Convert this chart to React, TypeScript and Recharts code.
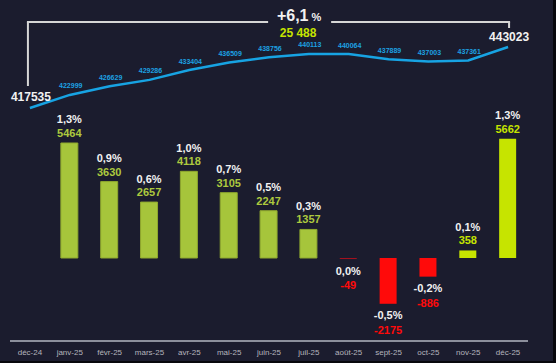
import {
  ComposedChart, Bar, Line, XAxis, YAxis, Cell, LabelList, ReferenceLine
} from "recharts";

const months = [
  "déc-24", "janv-25", "févr-25", "mars-25", "avr-25", "mai-25", "juin-25",
  "juil-25", "août-25", "sept-25", "oct-25", "nov-25", "déc-25",
];
const totals = [
  417535, 422999, 426629, 429286, 433404, 436509, 438756,
  440113, 440064, 437889, 437003, 437361, 443023,
];
const deltas = [null, 5464, 3630, 2657, 4118, 3105, 2247, 1357, -49, -2175, -886, 358, 5662];
const pctLabels = ["", "1,3%", "0,9%", "0,6%", "1,0%", "0,7%", "0,5%", "0,3%", "0,0%", "-0,5%", "-0,2%", "0,1%", "1,3%"];
const totalPct = "+6,1";
const totalDelta = "25 488";

const data = months.map((m, i) => ({ month: m, total: totals[i], delta: deltas[i] }));

const BG = "#1b1c2e";
const OLIVE = "#a6c53b";
const LIME = "#c6e400";
const RED = "#ff0a0a";
const LINE = "#17a3e3";

// bar look per month (olive for the older months, lime for the latest, red below zero)
const barFill = (i: number, v: number | null) => {
  if (v == null) return "none";
  if (v < 0) return Math.abs(v) < 100 ? "#a3111e" : RED;
  return i >= 11 ? LIME : OLIVE;
};
const valueColor = (i: number, v: number | null) => {
  if (v == null) return "none";
  if (v < 0) return RED;
  return i >= 11 ? LIME : "#adc93e";
};

const BRACKET_Y = 453473;

function BarLabel(props: any) {
  const { x, y, width, height, value } = props;
  const index = deltas.indexOf(value);
  if (index < 0) return null;
  const v = deltas[index] as number;
  const cx = x + width / 2;
  const top = Math.min(y, y + height);
  const bottom = Math.max(y, y + height);
  const pos = v > 0;
  const pctY = pos ? top - 19.5 : bottom + 15.5;
  const valY = pos ? top - 6 : bottom + 30;
  return (
    <g fontWeight={700} fontSize={11} textAnchor="middle">
      <text x={cx} y={pctY} fill="#f2f2f2">{pctLabels[index]}</text>
      <text x={cx} y={valY} fill={valueColor(index, v)}>{v}</text>
    </g>
  );
}

function LineLabel(props: any) {
  const { x, y, index } = props;
  const v = totals[index];
  if (index === 0 || index === totals.length - 1) {
    return (
      <text x={x + 1} y={y - 6.5} textAnchor="middle" fill="#f2f2f2" fontSize={12} fontWeight={700}>
        {v}
      </text>
    );
  }
  return (
    <text x={x + 1} y={y - 6.5} textAnchor="middle" fill="#1da1e2" fontSize={7} fontWeight={700}>
      {v}
    </text>
  );
}

function BracketLabel(props: any) {
  const { viewBox } = props;
  const cx = viewBox.x + viewBox.width * 0.563;
  const y = viewBox.y;
  return (
    <g>
      <rect x={cx - 31} y={y - 3} width={63} height={6} fill={BG} />
      <text x={cx} y={y - 1} textAnchor="middle" fill="#f2f2f2" fontWeight={700} fontSize={16}>
        {totalPct}
        <tspan fontSize={11} dx={3}>%</tspan>
      </text>
      <text x={cx - 1} y={y + 15} textAnchor="middle" fill={LIME} fontWeight={700} fontSize={12}>
        {totalDelta}
      </text>
    </g>
  );
}

export default function App() {
  return (
    <div
      style={{
        position: "absolute", left: 0, top: 0, width: 556, height: 363,
        background: BG, fontFamily: "'Liberation Sans', Arial, sans-serif",
      }}
    >
      <ComposedChart
        width={556}
        height={363}
        data={data}
        margin={{ top: 0, right: 28, left: 10, bottom: 0 }}
      >
        <XAxis
          dataKey="month"
          interval={0}
          height={22}
          tickLine={false}
          axisLine={{ stroke: "#8c8f9c", strokeWidth: 2 }}
          tick={{ fontSize: 8, fill: "#b4b4bc" }}
        />
        <YAxis yAxisId="bar" hide domain={[-3943, 12257]} allowDataOverflow />
        <YAxis yAxisId="line" hide domain={[320168, 462666]} allowDataOverflow />

        <ReferenceLine
          yAxisId="line"
          segment={[{ x: "déc-24", y: BRACKET_Y }, { x: "déc-25", y: BRACKET_Y }]}
          stroke="#d6d6d6"
          strokeWidth={2}
          shape={(p: any) => (
            <line x1={p.x1 - 3} y1={p.y1} x2={p.x2 + 2} y2={p.y2} stroke="#d6d6d6" strokeWidth={2} />
          )}
          label={{ content: BracketLabel }}
        />
        <ReferenceLine
          yAxisId="line"
          segment={[{ x: "déc-24", y: BRACKET_Y }, { x: "déc-24", y: 426728 }]}
          shape={(p: any) => (
            <line x1={p.x1 - 2} y1={p.y1} x2={p.x2 - 2} y2={p.y2} stroke="#d6d6d6" strokeWidth={2} />
          )}
        />
        <ReferenceLine
          yAxisId="line"
          segment={[{ x: "déc-25", y: BRACKET_Y }, { x: "déc-25", y: 450966 }]}
          shape={(p: any) => (
            <line x1={p.x1 + 1} y1={p.y1} x2={p.x2 + 1} y2={p.y2} stroke="#d6d6d6" strokeWidth={2} />
          )}
        />

        <Bar yAxisId="bar" dataKey="delta" barSize={17} isAnimationActive={false}>
          {data.map((d, i) => (
            <Cell
              key={d.month}
              fill={barFill(i, d.delta)}
              stroke={d.delta != null && d.delta > 0 && i < 11 ? "#8fa82e" : "none"}
              strokeWidth={1}
            />
          ))}
          <LabelList dataKey="delta" content={BarLabel} />
        </Bar>
        <Line
          yAxisId="line"
          dataKey="total"
          type="linear"
          stroke={LINE}
          strokeWidth={2.5}
          dot={false}
          isAnimationActive={false}
        >
          <LabelList dataKey="total" content={LineLabel} />
        </Line>
      </ComposedChart>
      <div style={{ position: "absolute", right: 0, top: 0, width: 3, height: 363, background: "#07070c" }} />
      <div style={{ position: "absolute", left: 0, bottom: 0, width: 556, height: 2, background: "#07070c" }} />
    </div>
  );
}
